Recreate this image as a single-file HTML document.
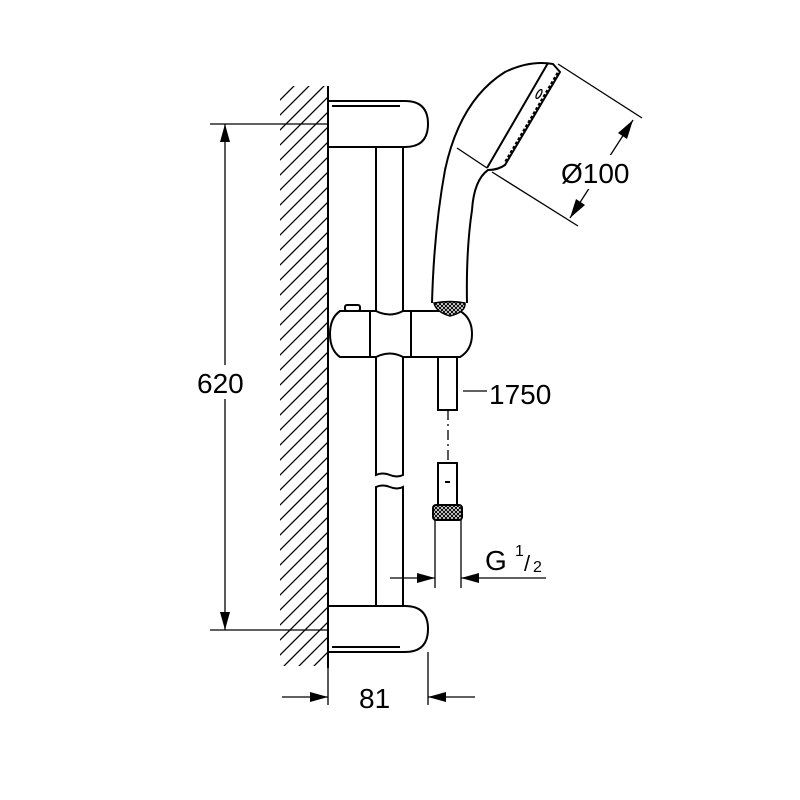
<!DOCTYPE html>
<html><head><meta charset="utf-8"><style>body{margin:0;background:#fff}svg{display:block}text{font-family:"Liberation Sans",sans-serif;fill:#000}</style></head><body>
<svg width="800" height="800" viewBox="0 0 800 800" xmlns="http://www.w3.org/2000/svg">
<defs>
<clipPath id="wc"><rect x="280" y="86" width="48" height="580"/></clipPath>
<pattern id="kn" width="4" height="4" patternUnits="userSpaceOnUse"><rect width="4" height="4" fill="#fff"/><path d="M0 0L4 4M4 0L0 4" stroke="#000" stroke-width="1"/></pattern>
</defs>
<g clip-path="url(#wc)" stroke="#000" stroke-width="1.3">
<path d="M270 110L330 50M270 125L330 65M270 140L330 80M270 155L330 95M270 170L330 110M270 185L330 125M270 200L330 140M270 215L330 155M270 230L330 170M270 245L330 185M270 260L330 200M270 275L330 215M270 290L330 230M270 305L330 245M270 320L330 260M270 335L330 275M270 350L330 290M270 365L330 305M270 380L330 320M270 395L330 335M270 410L330 350M270 425L330 365M270 440L330 380M270 455L330 395M270 470L330 410M270 485L330 425M270 500L330 440M270 515L330 455M270 530L330 470M270 545L330 485M270 560L330 500M270 575L330 515M270 590L330 530M270 605L330 545M270 620L330 560M270 635L330 575M270 650L330 590M270 665L330 605M270 680L330 620M270 695L330 635M270 710L330 650M270 725L330 665"/>
</g>
<g fill="none" stroke="#000" stroke-width="2">
<line x1="328" y1="86" x2="328" y2="668"/>
<path d="M328 101H405Q428 101 428 124Q428 147 405 147H328"/>
<path d="M332 106H400"/>
<path d="M376 147V475Q383 472 390 475Q397 478 403 475V147"/>
<path d="M376 606V487Q383 484 390 487Q397 490 403 487V606"/>
<path d="M328 606H405Q428 606 428 629Q428 652 405 652H328"/>
<path d="M332 647H400"/>
<path d="M340 311H376Q390 318 403 311H460Q472 318 472 334Q472 350 460 357H403Q390 350 376 357H340Q330 350 330 334Q330 318 340 311Z" fill="#fff"/>
<rect x="345" y="305" width="15" height="6" rx="2" fill="#fff"/>
<line x1="370" y1="311" x2="370" y2="357"/>
<line x1="411" y1="311" x2="411" y2="357"/>
<path d="M438 357V410H457V357"/>
<path d="M438 505V463H457V505"/>
<line x1="445" y1="482" x2="450" y2="482"/>
<line x1="448" y1="410" x2="448" y2="463" stroke-width="1.3" stroke-dasharray="10,4,2,4"/>
<rect x="433" y="505" width="29" height="15" rx="3" fill="url(#kn)"/>
<path d="M435 520V588M461 520V588" stroke-width="1.3"/>
<path d="M432 303Q434 230 445 170Q460 100 505 72Q530 60 553 64L560 72L505 165Q498 170 488 170Q474 180 472 210Q466 250 467 303" fill="#fff"/>
<path d="M548 63L487 168"/>
<path d="M558 73L505 163" stroke-width="3" stroke-dasharray="3,2"/>
<path d="M457 148L487 168" stroke-width="1.3"/>
<ellipse cx="539" cy="94" rx="2" ry="5" transform="rotate(30 539 94)" stroke-width="1.3"/>
<path d="M434 303Q450 300 465 303Q466 312 450 316Q436 312 434 303Z" fill="url(#kn)" stroke-width="1.5"/>
</g>
<g stroke="#000" stroke-width="1.3" fill="none">
<line x1="210" y1="124" x2="328" y2="124"/>
<line x1="210" y1="630" x2="328" y2="630"/>
<line x1="225" y1="124" x2="225" y2="630"/>
<line x1="282" y1="697" x2="328" y2="697"/>
<line x1="428" y1="697" x2="475" y2="697"/>
<line x1="328" y1="668" x2="328" y2="705"/>
<line x1="428" y1="652" x2="428" y2="705"/>
<line x1="390" y1="578" x2="435" y2="578"/>
<line x1="461" y1="578" x2="546" y2="578"/>
<line x1="463" y1="391" x2="487" y2="391"/>
<line x1="558" y1="64" x2="642" y2="118"/>
<line x1="492" y1="172" x2="578" y2="226"/>
<line x1="633" y1="120" x2="570" y2="218"/>
</g>
<g fill="#000">
<path d="M225 124L220 142H230Z"/>
<path d="M225 630L220 612H230Z"/>
<path d="M328 697L310 692V702Z"/>
<path d="M428 697L446 692V702Z"/>
<path d="M435 578L417 573V583Z"/>
<path d="M461 578L479 573V583Z"/>
<path d="M633 120L618 133L627 139Z"/>
<path d="M570 218L585 205L576 199Z"/>
</g>
<rect x="195" y="365" width="55" height="34" fill="#fff"/>
<text x="197" y="393" font-size="28">620</text>
<rect x="560" y="155" width="82" height="34" fill="#fff"/>
<text x="561" y="183" font-size="28">Ø100</text>
<text x="489" y="404" font-size="28">1750</text>
<text x="485" y="570" font-size="28">G</text>
<text x="515" y="556" font-size="16">1</text>
<text x="524" y="571" font-size="22">/</text>
<text x="533" y="572" font-size="16">2</text>
<text x="359" y="708" font-size="28">81</text>
</svg>
</body></html>
